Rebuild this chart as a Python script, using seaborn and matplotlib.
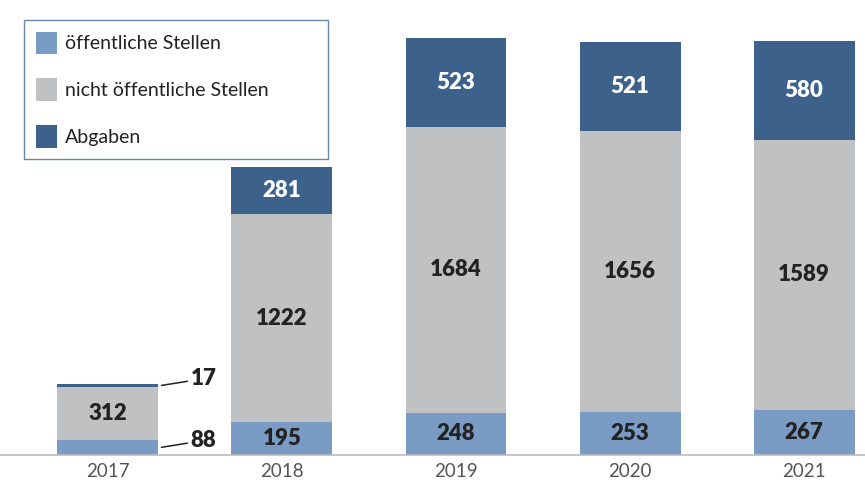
import matplotlib
matplotlib.use("Agg")
import matplotlib.pyplot as plt
import seaborn as sns
import pandas as pd
import numpy as np

years = ["2017", "2018", "2019", "2020", "2021"]
oeffentlich = [88, 195, 248, 253, 267]
nicht_oeffentlich = [312, 1222, 1684, 1656, 1589]
abgaben = [17, 281, 523, 521, 580]
series_names = ["öffentliche Stellen", "nicht öffentliche Stellen", "Abgaben"]
colors = ["#7A9BC3", "#C0C1C3", "#3C628B"]

sns.set_theme(style="white")
plt.rcParams["font.family"] = ["Lato", "DejaVu Sans"]

df = pd.DataFrame({"Jahr": years, "oe": oeffentlich, "nicht": nicht_oeffentlich, "abg": abgaben})
df["c1"] = df["oe"]
df["c2"] = df["oe"] + df["nicht"]
df["c3"] = df["c2"] + df["abg"]

fig = plt.figure(figsize=(8.65, 4.82), dpi=100)
ax = fig.add_axes([0, 0.056, 1, 0.944])

W = 0.58
sns.barplot(data=df, x="Jahr", y="c3", color=colors[2], width=W, ax=ax, saturation=1, linewidth=0, label=series_names[2])
sns.barplot(data=df, x="Jahr", y="c2", color=colors[1], width=W, ax=ax, saturation=1, linewidth=0, label=series_names[1])
sns.barplot(data=df, x="Jahr", y="c1", color=colors[0], width=W, ax=ax, saturation=1, linewidth=0, label=series_names[0])

ax.set_xlim(-0.62, 4.35)
ax.set_ylim(0, 2680)
ax.set_xlabel("")
ax.set_ylabel("")
ax.set_yticks([])
for s in ["top", "left", "right"]:
    ax.spines[s].set_visible(False)
ax.spines["bottom"].set_color("#BBBBBB")
ax.spines["bottom"].set_linewidth(1.2)
ax.tick_params(axis="x", length=0, labelsize=13.5, colors="#555555", pad=6)

FS = 16
lab_kw = dict(ha="center", va="center", fontsize=FS, fontweight="heavy")
for i in range(len(years)):
    o, n, a = oeffentlich[i], nicht_oeffentlich[i], abgaben[i]
    if i == 0:
        ax.text(i, o + n / 2, str(n), color="#222222", **lab_kw)
        ax.annotate(str(a), xy=(i + W / 2 + 0.01, o + n + a / 2), xycoords="data",
                    xytext=(22, 5), textcoords="offset points", ha="left", va="center",
                    fontsize=FS, fontweight="heavy", color="#222222",
                    arrowprops=dict(arrowstyle="-", color="#222222", lw=1.1, shrinkA=0, shrinkB=1))
        ax.annotate(str(o), xy=(i + W / 2 + 0.01, o / 2), xycoords="data",
                    xytext=(22, 5), textcoords="offset points", ha="left", va="center",
                    fontsize=FS, fontweight="heavy", color="#222222",
                    arrowprops=dict(arrowstyle="-", color="#222222", lw=1.1, shrinkA=0, shrinkB=1))
    else:
        ax.text(i, o / 2, str(o), color="#222222", **lab_kw)
        ax.text(i, o + n / 2, str(n), color="#222222", **lab_kw)
        ax.text(i, o + n + a / 2, str(a), color="white", **lab_kw)

handles, labels = ax.get_legend_handles_labels()
order = [labels.index(nm) for nm in series_names]
lx0 = 24 / 865
ly1 = 1 - 20 / 455.0
lw = 304 / 865
leg = ax.legend([handles[k] for k in order], [labels[k] for k in order],
                loc="upper left", bbox_to_anchor=(lx0, ly1 - 0.3, lw, 0.3), mode="expand",
                bbox_transform=ax.transAxes, frameon=True, fancybox=False, framealpha=1,
                fontsize=14, handlelength=1.1, handleheight=1.4, handletextpad=0.4,
                labelspacing=1.25, borderpad=0.6, borderaxespad=0)
leg.get_frame().set_edgecolor("#6A86A8")
leg.get_frame().set_linewidth(1.0)
leg.set_zorder(10)
for t in leg.get_texts():
    t.set_color("#222222")

fig.savefig("out.png", dpi=100)
